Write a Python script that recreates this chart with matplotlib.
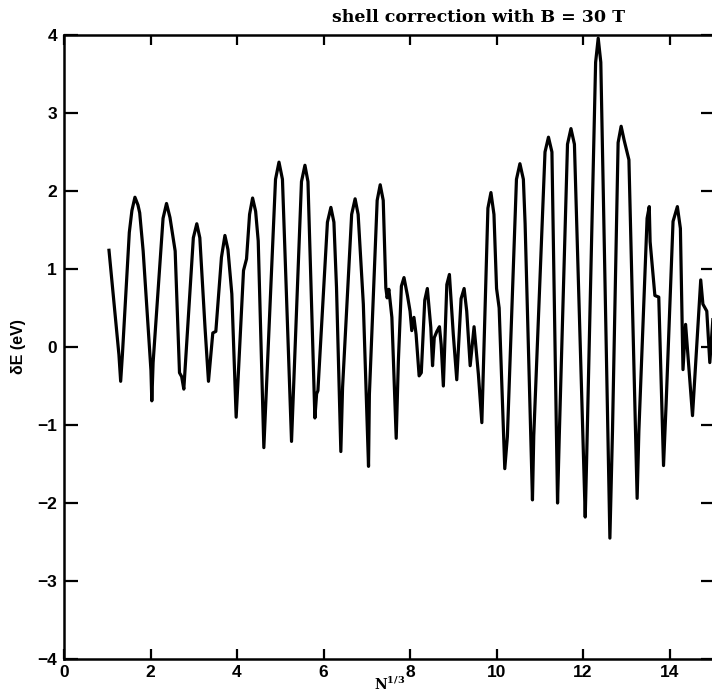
import matplotlib
matplotlib.use("Agg")
import matplotlib.pyplot as plt

# shell-correction energy vs cube root of particle number (B = 30 T)
n_cuberoot = [
    1.04, 1.27, 1.31, 1.35, 1.51, 1.57, 1.64, 1.71, 1.75, 1.83,
    2.01, 2.03, 2.06, 2.29, 2.37, 2.45, 2.57, 2.67, 2.72, 2.77,
    2.99, 3.07, 3.14, 3.26, 3.34, 3.44, 3.51, 3.64, 3.72, 3.79,
    3.88, 3.98, 4.15, 4.22, 4.29, 4.36, 4.43, 4.49, 4.62, 4.89,
    4.97, 5.05, 5.26, 5.49, 5.57, 5.64, 5.80, 5.84, 5.87, 6.09,
    6.17, 6.24, 6.30, 6.40, 6.44, 6.65, 6.73, 6.80, 6.92, 7.04,
    7.06, 7.24, 7.31, 7.38, 7.44, 7.47, 7.51, 7.58, 7.68, 7.73,
    7.80, 7.86, 7.94, 8.00, 8.04, 8.09, 8.14, 8.21, 8.26, 8.34,
    8.40, 8.48, 8.52, 8.56, 8.62, 8.68, 8.72, 8.77, 8.85, 8.91,
    9.00, 9.08, 9.18, 9.25, 9.31, 9.39, 9.48, 9.58, 9.66, 9.80,
    9.87, 9.94, 10.00, 10.06, 10.19, 10.25, 10.46, 10.54, 10.62, 10.66,
    10.83, 10.86, 11.12, 11.20, 11.28, 11.41, 11.45, 11.64, 11.72, 11.80,
    12.05, 12.08, 12.29, 12.35, 12.41, 12.62, 12.68, 12.81, 12.88, 12.95,
    13.06, 13.25, 13.29, 13.48, 13.53, 13.55, 13.66, 13.75, 13.86, 13.92,
    14.08, 14.18, 14.25, 14.31, 14.37, 14.43, 14.53, 14.72, 14.77, 14.86,
    14.93, 15.00,
]
delta_e = [
    1.24, -0.10, -0.44, -0.10, 1.47, 1.75, 1.92, 1.82, 1.72, 1.23,
    -0.30, -0.69, -0.20, 1.65, 1.84, 1.66, 1.23, -0.33, -0.38, -0.54,
    1.40, 1.58, 1.40, 0.25, -0.44, 0.18, 0.20, 1.15, 1.43, 1.25,
    0.68, -0.90, 0.98, 1.13, 1.70, 1.91, 1.74, 1.36, -1.29, 2.15,
    2.37, 2.15, -1.21, 2.12, 2.33, 2.12, -0.91, -0.60, -0.56, 1.60,
    1.79, 1.60, 0.76, -1.34, -0.52, 1.70, 1.90, 1.70, 0.55, -1.53,
    -0.61, 1.88, 2.08, 1.88, 0.76, 0.63, 0.74, 0.38, -1.17, -0.18,
    0.78, 0.89, 0.66, 0.46, 0.21, 0.38, 0.16, -0.37, -0.33, 0.60,
    0.75, 0.25, -0.24, 0.12, 0.20, 0.26, 0.03, -0.50, 0.80, 0.93,
    0.16, -0.42, 0.62, 0.75, 0.46, -0.24, 0.26, -0.35, -0.97, 1.78,
    1.98, 1.70, 0.75, 0.50, -1.56, -1.15, 2.15, 2.35, 2.15, 1.58,
    -1.96, -1.14, 2.50, 2.69, 2.50, -2.00, -1.14, 2.60, 2.80, 2.60,
    -2.18, -1.50, 3.65, 3.96, 3.65, -2.45, -1.08, 2.62, 2.83, 2.65,
    2.40, -1.94, -1.08, 1.65, 1.80, 1.35, 0.66, 0.64, -1.52, -0.73,
    1.61, 1.80, 1.52, -0.29, 0.29, -0.15, -0.88, 0.86, 0.55, 0.46,
    -0.20, 0.35,
]

x_ticks = [0, 2, 4, 6, 8, 10, 12, 14]
x_tick_labels = ["0", "2", "4", "6", "8", "10", "12", "14"]
y_ticks = [-4, -3, -2, -1, 0, 1, 2, 3, 4]
y_tick_labels = ["\u22124", "\u22123", "\u22122", "\u22121", "0", "1", "2", "3", "4"]

plt.rcParams["mathtext.fontset"] = "dejavuserif"

fig = plt.figure(figsize=(7.12, 6.99), dpi=100)
W, H = 712, 699
ax = fig.add_axes([64 / W, 1 - 659 / H, 651 / W, (659 - 35) / H])

ax.plot(n_cuberoot, delta_e, color="black", lw=2.3, solid_joinstyle="round")

ax.set_xlim(0, 15.05)
ax.set_ylim(-4, 4)
ax.set_xticks(x_ticks)
ax.set_xticklabels(x_tick_labels)
ax.set_yticks(y_ticks)
ax.set_yticklabels(y_tick_labels)

for sp in ax.spines.values():
    sp.set_linewidth(1.8)

ax.tick_params(axis="both", which="major", direction="in", width=1.6,
               top=True, right=True, labelsize=12.5)
ax.tick_params(axis="y", length=10, pad=5)
ax.tick_params(axis="x", length=7, pad=4)
for lab in ax.get_xticklabels() + ax.get_yticklabels():
    lab.set_fontfamily("Liberation Sans")
    lab.set_fontweight("bold")

ax.set_ylabel("\u03b4E (eV)", fontsize=11.5, fontweight="bold",
              family="Liberation Sans", labelpad=8)
ax.set_xlabel(r"$\mathbf{N^{1/3}}$", fontsize=10, labelpad=-3)

fig.text(479 / W, 1 - 18 / H, "shell correction with B = 30 T",
         ha="center", va="center", fontsize=12.5, fontweight="bold",
         family="DejaVu Serif")

fig.savefig("out.png", dpi=100)
